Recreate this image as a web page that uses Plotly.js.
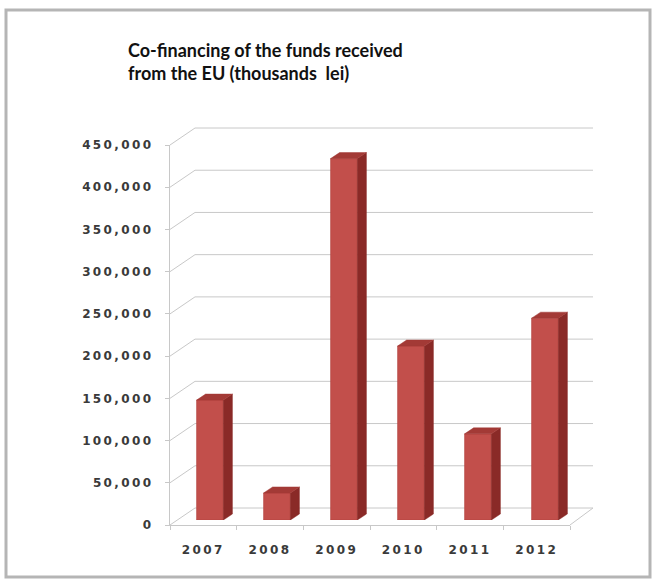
<!DOCTYPE html>
<html><head><meta charset="utf-8">
<script src="https://cdn.plot.ly/plotly-3.0.1.min.js"></script>
<style>
html,body{margin:0;padding:0;background:#fff}
#chart{width:657px;height:579px}
.x2tick text,.y2tick text{letter-spacing:2.4px}
</style></head><body><div id="chart"></div>
<script>
// ---- data ----
const years = ['2007', '2008', '2009', '2010', '2011', '2012'];
const values = [142000, 32000, 428000, 206000, 102000, 239000];
const yTickValues = [0, 50000, 100000, 150000, 200000, 250000, 300000, 350000, 400000, 450000];
const titleText = 'Co-financing of the funds received<br>from the EU (thousands  lei)';

// ---- geometry (pixels in 657x579 canvas) ----
const W = 657, H = 579;
const fx = p => p / W;
const fy = p => 1 - p / H;
const yMax = 450000;
const front = {x0: 170, x1: 570, yb: 525, yt: 145};   // front plane (labels)
const back  = {x0: 195, x1: 593, yb: 508, yt: 128};   // back wall (gridlines)
const barPl = {x0: 176.5, x1: 578.5, yb: 520, yt: 140}; // bars front faces
const barW = 0.4;
const depthDx = 9 / ((barPl.x1 - barPl.x0) / years.length);
const depthDy = 6 * yMax / (barPl.yb - barPl.yt);

const idx = years.map((_, i) => i);
const sideX = [], sideY = [], topX = [], topY = [];
idx.forEach(i => {
  const v = values[i], r = i + barW / 2, l = i - barW / 2;
  sideX.push(r, r, r + depthDx, r + depthDx, r, null);
  sideY.push(0, v, v + depthDy, depthDy, 0, null);
  topX.push(l, r, r + depthDx, l + depthDx, l, null);
  topY.push(v, v, v + depthDy, v + depthDy, v, null);
});

const traces = [
  {type: 'scatter', x: sideX, y: sideY, xaxis: 'x', yaxis: 'y', mode: 'lines', fill: 'toself',
   fillcolor: '#8A2A27', line: {width: 0.5, color: '#8A2A27'}, hoverinfo: 'skip', showlegend: false},
  {type: 'scatter', x: topX, y: topY, xaxis: 'x', yaxis: 'y', mode: 'lines', fill: 'toself',
   fillcolor: '#A33A36', line: {width: 0.5, color: '#A33A36'}, hoverinfo: 'skip', showlegend: false},
  {type: 'bar', x: idx, y: values, width: barW, xaxis: 'x', yaxis: 'y',
   marker: {color: '#C24F4B', line: {width: 0.6, color: '#B0403C'}}, showlegend: false},
  {type: 'scatter', x: years, y: years.map(() => 0), xaxis: 'x2', yaxis: 'y2', mode: 'markers',
   marker: {opacity: 0}, hoverinfo: 'skip', showlegend: false}
];

const gridLine = {color: '#C8C8C8', width: 1};
const yFront = v => fy(front.yb - v / yMax * (front.yb - front.yt));
const yBack = v => fy(back.yb - v / yMax * (back.yb - back.yt));
const shapes = [];
yTickValues.forEach(v => {
  shapes.push({type: 'line', xref: 'paper', yref: 'paper', layer: 'below',
    x0: fx(front.x0), y0: yFront(v), x1: fx(back.x0), y1: yBack(v), line: gridLine});
  shapes.push({type: 'line', xref: 'paper', yref: 'paper', layer: 'below',
    x0: fx(back.x0), y0: yBack(v), x1: fx(back.x1), y1: yBack(v), line: gridLine});
});
shapes.push({type: 'line', xref: 'paper', yref: 'paper', layer: 'below',
  x0: fx(front.x1), y0: fy(front.yb), x1: fx(back.x1), y1: fy(back.yb), line: gridLine});
shapes.push({type: 'rect', xref: 'paper', yref: 'paper', layer: 'above',
  x0: fx(6), x1: fx(650), y0: fy(577), y1: fy(10),
  line: {color: '#B5B5B5', width: 3}});

const tickFont = {family: 'DejaVu Sans', size: 12, weight: 'bold', color: '#3A3A3A'};

const layout = {
  width: W, height: H,
  margin: {l: 0, r: 0, t: 0, b: 0},
  paper_bgcolor: '#fff', plot_bgcolor: 'rgba(0,0,0,0)',
  title: {text: titleText, x: fx(128), xanchor: 'left', y: fy(57), yanchor: 'top',
          font: {family: 'Lato', size: 18, weight: 'bold', color: '#111'}},
  xaxis: {domain: [fx(barPl.x0), fx(barPl.x1)], range: [-0.5, 5.5], anchor: 'y', visible: false},
  yaxis: {domain: [fy(barPl.yb), fy(barPl.yt)], range: [0, yMax], anchor: 'x', visible: false},
  xaxis2: {domain: [fx(front.x0), fx(front.x1)], type: 'category', categoryarray: years,
           range: [-0.5, 5.5], anchor: 'y2', showgrid: false, zeroline: false,
           showline: true, linecolor: '#C8C8C8', linewidth: 1,
           ticks: 'outside', tickson: 'boundaries', ticklen: 4, tickcolor: '#C8C8C8',
           tickfont: tickFont, ticklabelstandoff: 14},
  yaxis2: {domain: [fy(front.yb), fy(front.yt)], range: [0, yMax], anchor: 'x2',
           tickvals: yTickValues, tickformat: ',d', showgrid: false, zeroline: false,
           showline: true, linecolor: '#C8C8C8', linewidth: 1,
           ticks: 'outside', ticklen: 4, tickcolor: '#C8C8C8',
           tickfont: tickFont, ticklabelstandoff: 9},
  shapes: shapes
};

Plotly.newPlot('chart', traces, layout, {displayModeBar: false, staticPlot: true});
</script></body></html>
